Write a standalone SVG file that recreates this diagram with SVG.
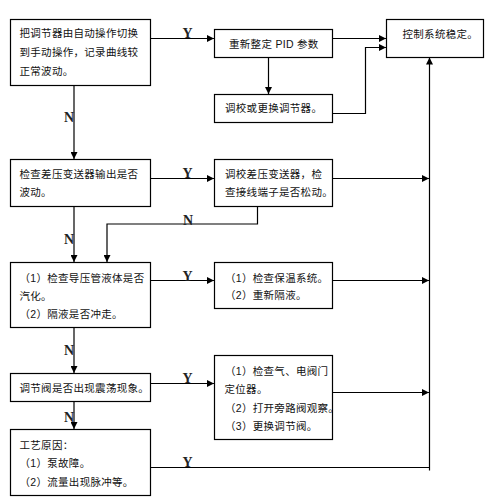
<svg xmlns="http://www.w3.org/2000/svg" width="500" height="503" viewBox="0 0 500 503">
<defs>
<marker id="ah" viewBox="0 0 10 10" refX="10" refY="5" markerWidth="8" markerHeight="7" markerUnits="userSpaceOnUse" orient="auto">
<path d="M0,0 L10,5 L0,10 Z" fill="#000"/>
</marker>
<style>
rect{fill:#fff;stroke:#000;stroke-width:1.2}
.t{font-family:"Liberation Sans","Noto Sans CJK SC",sans-serif;font-size:10.5px;fill:#111;letter-spacing:0.3px}
.c{fill:none;stroke:#000;stroke-width:1.2}
.a{marker-end:url(#ah)}
.yn{font-family:"Liberation Serif","DejaVu Serif",serif;font-size:14px;font-weight:bold;fill:#222;text-anchor:middle}
</style>
</defs>
<rect width="500" height="503" style="fill:#fff;stroke:none"/>
<g id="connectors">
<path class="c a" d="M150.5,38.5 H214"/>
<path class="c a" d="M268.5,57.5 V94"/>
<path class="c a" d="M333,38.5 H386"/>
<path class="c a" d="M333,113.5 H365.5 V47.5 H386"/>
<path class="c a" d="M429.5,470.5 V57.5"/>
<path class="c a" d="M74,85.5 V159"/>
<path class="c a" d="M150.5,178.5 H214"/>
<path class="c a" d="M333,178.5 H429"/>
<path class="c a" d="M257.5,206.5 V224 H107 V262"/>
<path class="c a" d="M74,206.5 V262"/>
<path class="c a" d="M150.5,280.5 H214"/>
<path class="c a" d="M333,280.5 H429"/>
<path class="c a" d="M74,327.5 V373"/>
<path class="c a" d="M150.5,383.5 H214"/>
<path class="c a" d="M333,392.5 H429"/>
<path class="c a" d="M74,401.5 V429"/>
<path class="c" d="M150.5,467.5 H429.5"/>
<text class="yn" x="187.5" y="38">Y</text>
<text class="yn" x="187.5" y="178">Y</text>
<text class="yn" x="187.5" y="280.5">Y</text>
<text class="yn" x="187.5" y="383">Y</text>
<text class="yn" x="187.5" y="467">Y</text>
<text class="yn" x="69" y="122">N</text>
<text class="yn" x="69" y="244">N</text>
<text class="yn" x="188" y="225">N</text>
<text class="yn" x="69" y="355">N</text>
<text class="yn" x="69" y="422">N</text>
</g>
<g id="nodeA">
<rect x="10.5" y="19.5" width="140" height="66"/>
<text class="t" x="19.5" y="37">把调节器由自动操作切换</text>
<text class="t" x="19.5" y="56">到手动操作，记录曲线较</text>
<text class="t" x="19.5" y="75">正常波动。</text>
</g>
<g id="nodeB">
<rect x="214.5" y="29.5" width="118" height="28"/>
<text class="t" x="229" y="47.5">重新整定 PID 参数</text>
</g>
<g id="nodeC">
<rect x="386.5" y="19.5" width="97" height="38"/>
<text class="t" x="402.5" y="38">控制系统稳定。</text>
</g>
<g id="nodeD">
<rect x="214.5" y="94.5" width="118" height="28"/>
<text class="t" x="225" y="112">调校或更换调节器。</text>
</g>
<g id="nodeE">
<rect x="10.5" y="159.5" width="140" height="47"/>
<text class="t" x="19.5" y="178">检查差压变送器输出是否</text>
<text class="t" x="19.5" y="196">波动。</text>
</g>
<g id="nodeF">
<rect x="214.5" y="159.5" width="118" height="47"/>
<text class="t" x="225" y="178">调校差压变送器，检</text>
<text class="t" x="225" y="196">查接线端子是否松动。</text>
</g>
<g id="nodeG">
<rect x="10.5" y="262.5" width="140" height="65"/>
<text class="t" x="19.5" y="281.5">（1）检查导压管液体是否</text>
<text class="t" x="19.5" y="300">汽化。</text>
<text class="t" x="19.5" y="318">（2）隔液是否冲走。</text>
</g>
<g id="nodeH">
<rect x="214.5" y="262.5" width="118" height="46"/>
<text class="t" x="225" y="282">（1）检查保温系统。</text>
<text class="t" x="225" y="299">（2）重新隔液。</text>
</g>
<g id="nodeI">
<rect x="10.5" y="373.5" width="140" height="28"/>
<text class="t" x="19.5" y="392">调节阀是否出现震荡现象。</text>
</g>
<g id="nodeJ">
<rect x="214.5" y="355.5" width="118" height="84"/>
<text class="t" x="225" y="374.5">（1）检查气、电阀门</text>
<text class="t" x="224.5" y="393">定位器。</text>
<text class="t" x="225" y="411.5">（2）打开旁路阀观察。</text>
<text class="t" x="225" y="430">（3）更换调节阀。</text>
</g>
<g id="nodeK">
<rect x="10.5" y="429.5" width="140" height="66"/>
<text class="t" x="19.5" y="449">工艺原因：</text>
<text class="t" x="19.5" y="467">（1）泵故障。</text>
<text class="t" x="19.5" y="485.5">（2）流量出现脉冲等。</text>
</g>
</svg>
